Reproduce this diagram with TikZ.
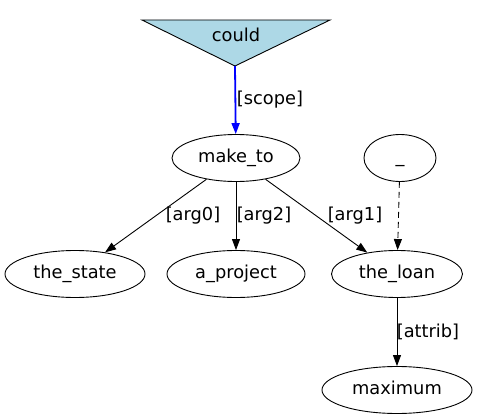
\documentclass[tikz,border=0pt]{standalone}
\usepackage{fontspec}
\setmainfont{DejaVu Sans}
\usetikzlibrary{shapes.geometric,arrows.meta}
\definecolor{lightblue}{HTML}{ADD8E6}
\tikzset{
  ell/.style={draw, ellipse, inner sep=0pt, line width=0.9pt, font=\fontsize{17.8}{20}\selectfont, text height=13pt, text depth=4pt},
  lab/.style={font=\fontsize{17.8}{20}\selectfont, inner sep=0pt},
  edge/.style={line width=0.9pt, -{Triangle[length=11pt,width=8pt]}},
}
\begin{document}
\begin{tikzpicture}[x=1pt,y=-1pt]
\useasboundingbox (0,0) rectangle (477,420);
% could triangle
\filldraw[fill=lightblue, draw=black, line width=0.9pt] (142,20) -- (330,20) -- (235,66) -- cycle;
\node[lab] (could) at (236,35) {could};
\coordinate (couldapex) at (235,66);
\node[ell, minimum width=128pt, minimum height=47pt] (make) at (236,158) {make\textunderscore to};
\node[ell, minimum width=72pt, minimum height=47pt] (dummy) at (400,158) {\textunderscore};
\node[ell, minimum width=140pt, minimum height=47pt] (state) at (75,274) {the\textunderscore state};
\node[ell, minimum width=138pt, minimum height=47pt] (project) at (236,274) {a\textunderscore project};
\node[ell, minimum width=131pt, minimum height=47pt] (loan) at (397,274) {the\textunderscore loan};
\node[ell, minimum width=150pt, minimum height=47pt] (max) at (397,390) {maximum};
\draw[edge, blue, line width=1.8pt] (couldapex) -- (make);
\node[lab] at (270,100) {[scope]};
\draw[edge] (make) -- (state);
\node[lab] at (193,216) {[arg0]};
\draw[edge] (make) -- (project);
\node[lab] at (264,216) {[arg2]};
\draw[edge] (make) -- (loan);
\node[lab] at (355,216) {[arg1]};
\draw[edge, dash pattern=on 6pt off 4pt] (dummy) -- (loan);
\draw[edge] (loan) -- (max);
\node[lab] at (428,332) {[attrib]};
\end{tikzpicture}
\end{document}
